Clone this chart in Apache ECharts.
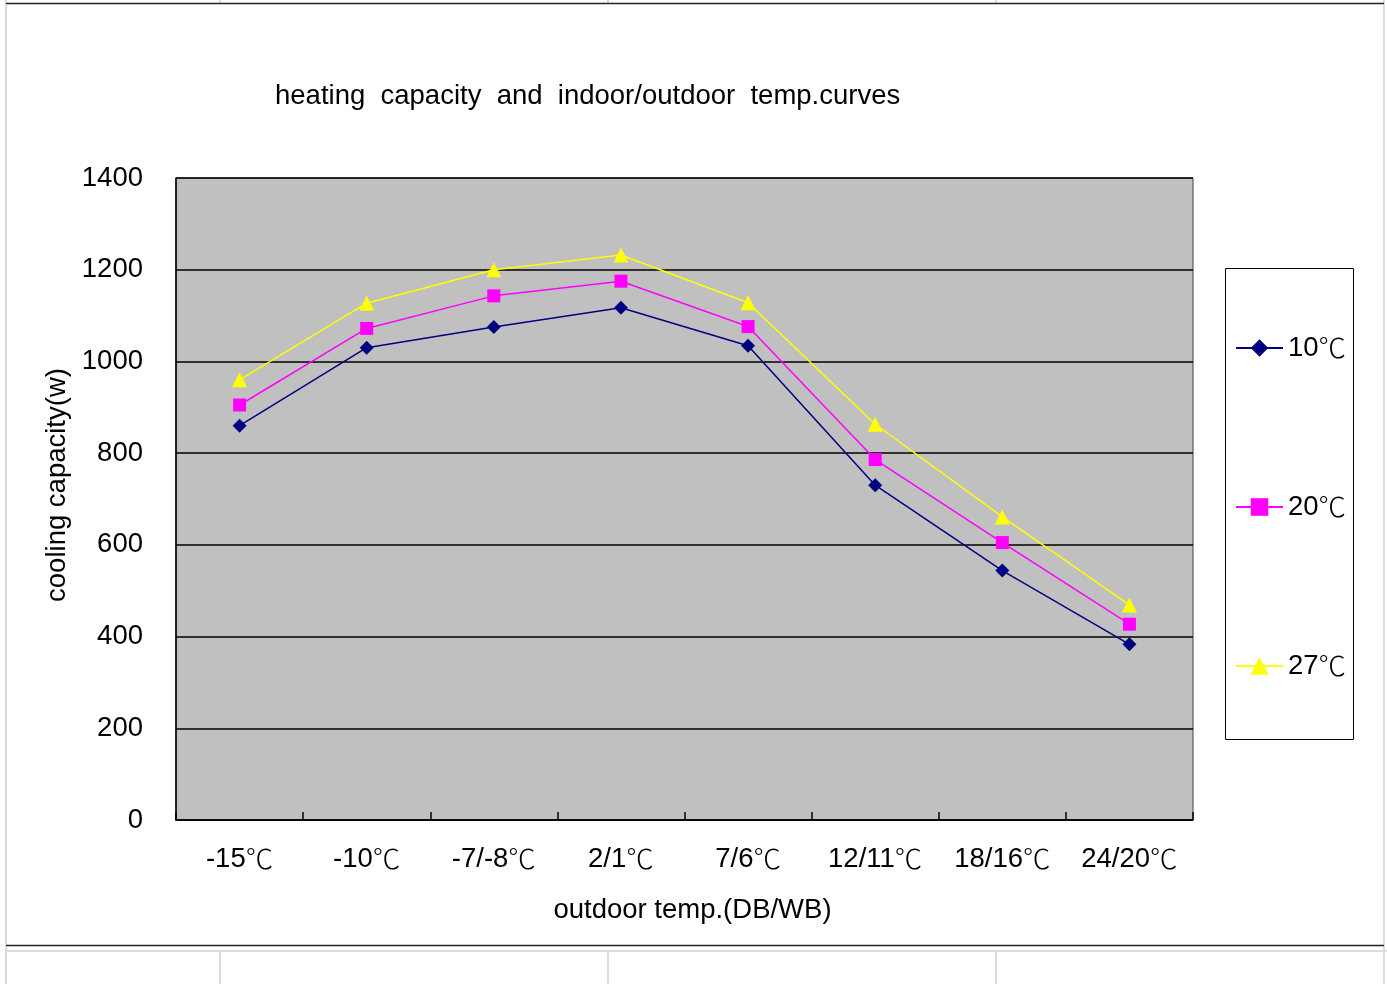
<!DOCTYPE html>
<html>
<head>
<meta charset="utf-8">
<script src="https://cdn.jsdelivr.net/npm/echarts@6/dist/echarts.min.js"></script>
<style>
html,body{margin:0;padding:0;background:#fff;}
#chart{width:1387px;height:984px;}
</style>
</head>
<body>
<div id="chart"></div>
<script>
const categories = ['-15℃', '-10℃', '-7/-8℃', '2/1℃', '7/6℃', '12/11℃', '18/16℃', '24/20℃'];
const seriesNames = ['10℃', '20℃', '27℃'];
const values10 = [860, 1030, 1075, 1117, 1034, 730, 544, 383];
const values20 = [905, 1072, 1143, 1175, 1076, 786, 605, 427];
const values27 = [960, 1127, 1200, 1232, 1128, 863, 661, 469];
const yTicks = [0, 200, 400, 600, 800, 1000, 1200, 1400];

const FONT = '"Liberation Sans", Arial, sans-serif';
const CJK = '"Noto Sans CJK SC", sans-serif';
const FS = 27.5;

function splitDeg(s) {
  const i = s.indexOf('℃');
  if (i < 0) return '{a|' + s + '}';
  return '{a|' + s.slice(0, i) + '}{c|℃}';
}
const richDeg = {
  a: {fontFamily: FONT, fontSize: FS, color: '#000'},
  c: {fontFamily: CJK, fontSize: FS, fontWeight: 300, color: '#000'}
};

const chart = echarts.init(document.getElementById('chart'), null, {renderer: 'canvas'});

const gridLineColor = '#dcdcdc';
const graphics = [
  {type: 'line', shape: {x1: 220, y1: 0, x2: 220, y2: 3}, style: {stroke: gridLineColor, lineWidth: 2}, z: -1},
  {type: 'line', shape: {x1: 608, y1: 0, x2: 608, y2: 3}, style: {stroke: gridLineColor, lineWidth: 2}, z: -1},
  {type: 'line', shape: {x1: 996, y1: 0, x2: 996, y2: 3}, style: {stroke: gridLineColor, lineWidth: 2}, z: -1},
  {type: 'line', shape: {x1: 220, y1: 950, x2: 220, y2: 984}, style: {stroke: gridLineColor, lineWidth: 2}, z: -1},
  {type: 'line', shape: {x1: 608, y1: 950, x2: 608, y2: 984}, style: {stroke: gridLineColor, lineWidth: 2}, z: -1},
  {type: 'line', shape: {x1: 996, y1: 950, x2: 996, y2: 984}, style: {stroke: gridLineColor, lineWidth: 2}, z: -1},
  {type: 'line', shape: {x1: 6, y1: 951, x2: 1387, y2: 951}, style: {stroke: gridLineColor, lineWidth: 2}, z: -1},
  {type: 'line', shape: {x1: 6, y1: 0, x2: 6, y2: 984}, style: {stroke: gridLineColor, lineWidth: 2}, z: -1},
  {type: 'line', shape: {x1: 1384, y1: 0, x2: 1384, y2: 984}, style: {stroke: gridLineColor, lineWidth: 2}, z: -1},
  {type: 'line', shape: {x1: 6, y1: 3.5, x2: 1384, y2: 3.5}, style: {stroke: '#222', lineWidth: 1.5}, z: 0},
  {type: 'line', shape: {x1: 6, y1: 945.5, x2: 1384, y2: 945.5}, style: {stroke: '#222', lineWidth: 1.5}, z: 0},
  {type: 'rect', shape: {x: 1225.5, y: 268.5, width: 128, height: 471}, style: {fill: '#fff', stroke: '#000', lineWidth: 1}, z: 0}
];

const option = {
  backgroundColor: '#ffffff',
  animation: false,
  textStyle: {fontFamily: FONT},
  title: {
    text: 'heating  capacity  and  indoor/outdoor  temp.curves',
    left: 270,
    top: 77,
    textStyle: {fontFamily: FONT, fontSize: FS, fontWeight: 'normal', color: '#000'}
  },
  graphic: graphics,
  legend: {
    orient: 'vertical',
    left: 1235,
    top: 334,
    padding: 0,
    itemWidth: 47,
    itemHeight: 22,
    itemGap: 131,
    data: seriesNames,
    formatter: function (name) { return splitDeg(name); },
    textStyle: {fontFamily: FONT, fontSize: FS, color: '#000', lineHeight: 26, padding: [0, 0, 0, 0], rich: richDeg},
    z: 5
  },
  grid: {
    left: 176,
    right: 194,
    top: 178,
    bottom: 164,
    show: true,
    backgroundColor: '#c0c0c0',
    borderColor: '#404040',
    borderWidth: 1,
    containLabel: false
  },
  xAxis: {
    type: 'category',
    data: categories,
    boundaryGap: true,
    name: 'outdoor temp.(DB/WB)',
    nameLocation: 'middle',
    nameGap: 76,
    nameTextStyle: {fontFamily: FONT, fontSize: FS, color: '#000', padding: [0, 0, 0, 16]},
    axisLine: {show: true, lineStyle: {color: '#000', width: 1.5}},
    axisTick: {show: true, inside: true, length: 8, lineStyle: {color: '#000', width: 1.5}},
    axisLabel: {
      margin: 25,
      formatter: function (v) { return splitDeg(v); },
      rich: richDeg
    },
    splitLine: {show: false}
  },
  yAxis: {
    type: 'value',
    min: 0,
    max: 1400,
    interval: 200,
    name: 'cooling capacity(w)',
    nameLocation: 'middle',
    nameGap: 105,
    nameRotate: 90,
    nameTextStyle: {fontFamily: FONT, fontSize: FS, color: '#000', padding: [0, 0, 0, 28]},
    axisLine: {show: true, lineStyle: {color: '#000', width: 1.5}},
    axisTick: {show: false},
    axisLabel: {
      fontFamily: FONT, fontSize: FS, color: '#000', margin: 33,
      formatter: function (v) { return yTicks.indexOf(v) >= 0 ? String(v) : ''; }
    },
    splitLine: {show: true, lineStyle: {color: '#000', width: 1.5}}
  },
  series: [
    {
      name: seriesNames[0], type: 'line', data: values10,
      symbol: 'diamond', symbolSize: 14,
      lineStyle: {color: '#000080', width: 1.5},
      itemStyle: {color: '#000080'}
    },
    {
      name: seriesNames[1], type: 'line', data: values20,
      symbol: 'rect', symbolSize: 13,
      lineStyle: {color: '#ff00ff', width: 1.5},
      itemStyle: {color: '#ff00ff'}
    },
    {
      name: seriesNames[2], type: 'line', data: values27,
      symbol: 'triangle', symbolSize: 15,
      lineStyle: {color: '#ffff00', width: 1.5},
      itemStyle: {color: '#ffff00'}
    }
  ]
};
chart.setOption(option);
</script>
</body>
</html>
